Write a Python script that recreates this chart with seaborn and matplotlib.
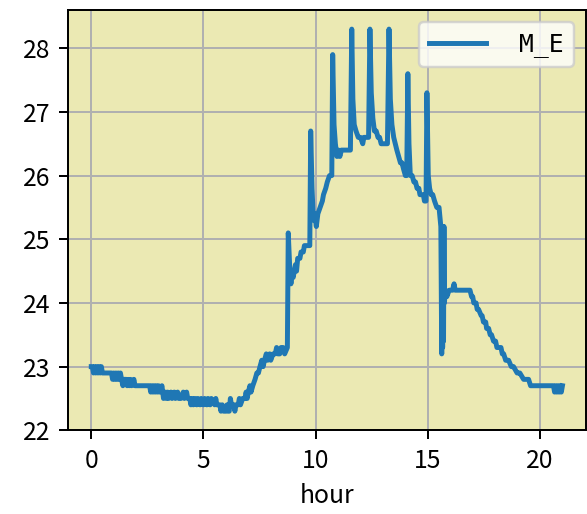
import matplotlib
matplotlib.use("Agg")
import matplotlib.pyplot as plt
import seaborn as sns
import pandas as pd

series_label = "M_E"
x_label = "hour"

hours = [
    0.00, 0.05, 0.10, 0.15, 0.20, 0.25, 0.30, 0.35, 0.40, 0.45, 0.50, 0.90,
    0.95, 1.00, 1.05, 1.10, 1.15, 1.20, 1.25, 1.30, 1.35, 1.41, 1.45, 1.56,
    1.60, 1.65, 1.70, 1.75, 1.80, 1.90, 1.95, 2.10, 2.60, 2.65, 2.70, 2.75,
    2.80, 2.85, 2.90, 2.95, 3.00, 3.05, 3.15, 3.22, 3.30, 3.35, 3.40, 3.45,
    3.55, 3.60, 3.70, 3.75, 3.85, 3.90, 4.00, 4.10, 4.15, 4.25, 4.30, 4.39,
    4.44, 4.50, 4.55, 4.62, 4.70, 4.75, 4.85, 4.90, 5.00, 5.05, 5.15, 5.20,
    5.30, 5.35, 5.50, 5.55, 5.60, 5.73, 5.78, 5.84, 5.90, 6.00, 6.05, 6.10,
    6.15, 6.20, 6.25, 6.35, 6.40, 6.45, 6.55, 6.60, 6.65, 6.75, 6.85, 6.90,
    6.95, 7.00, 7.07, 7.12, 7.20, 7.30, 7.38, 7.45, 7.52, 7.60, 7.66, 7.72,
    7.80, 7.86, 7.95, 8.00, 8.10, 8.20, 8.26, 8.32, 8.40, 8.46, 8.55, 8.62,
    8.74, 8.78, 8.84, 8.90, 8.95, 9.00, 9.10, 9.15, 9.20, 9.30, 9.35, 9.45,
    9.50, 9.60, 9.74, 9.78, 9.84, 9.90, 9.96, 10.03, 10.10, 10.20, 10.30, 10.35,
    10.45, 10.52, 10.62, 10.72, 10.76, 10.82, 10.88, 10.95, 11.02, 11.08, 11.15,
    11.55, 11.61, 11.66, 11.72, 11.80, 11.90, 12.00, 12.10, 12.15, 12.36, 12.42,
    12.48, 12.55, 12.62, 12.70, 12.78, 12.85, 12.92, 13.20, 13.27, 13.33, 13.40,
    13.48, 13.55, 13.62, 13.70, 13.78, 13.85, 13.92, 14.00, 14.06, 14.11, 14.16,
    14.22, 14.30, 14.38, 14.45, 14.52, 14.60, 14.65, 14.72, 14.80, 14.85, 14.92,
    14.96, 15.02, 15.08, 15.15, 15.22, 15.30, 15.40, 15.50, 15.58, 15.62, 15.64,
    15.66, 15.68, 15.70, 15.72, 15.74, 15.78, 15.85, 15.95, 16.10, 16.17, 16.22,
    16.88, 16.95, 17.00, 17.05, 17.15, 17.20, 17.26, 17.38, 17.42, 17.48, 17.58,
    17.62, 17.71, 17.78, 17.84, 17.93, 18.02, 18.08, 18.15, 18.26, 18.32, 18.38,
    18.47, 18.52, 18.60, 18.72, 18.77, 18.82, 18.98, 19.04, 19.10, 19.27, 19.33,
    19.40, 19.49, 19.58, 19.66, 19.71, 19.80, 20.60, 20.65, 20.70, 20.75, 20.80,
    20.85, 20.90, 20.95, 21.00,
]

temps = [
    23.0, 23.0, 22.9, 23.0, 22.9, 23.0, 22.9, 23.0, 22.9, 23.0, 22.9, 22.9,
    22.8, 22.9, 22.8, 22.9, 22.8, 22.9, 22.8, 22.9, 22.8, 22.7, 22.8, 22.8,
    22.7, 22.8, 22.7, 22.8, 22.7, 22.8, 22.7, 22.7, 22.7, 22.6, 22.7, 22.6,
    22.7, 22.6, 22.7, 22.6, 22.7, 22.6, 22.7, 22.5, 22.6, 22.5, 22.6, 22.5,
    22.6, 22.5, 22.6, 22.5, 22.6, 22.5, 22.5, 22.6, 22.5, 22.6, 22.5, 22.5,
    22.4, 22.5, 22.4, 22.5, 22.4, 22.5, 22.4, 22.5, 22.4, 22.5, 22.4, 22.5,
    22.4, 22.5, 22.4, 22.5, 22.4, 22.4, 22.3, 22.4, 22.3, 22.3, 22.4, 22.3,
    22.3, 22.5, 22.4, 22.4, 22.3, 22.4, 22.4, 22.5, 22.4, 22.5, 22.5, 22.6,
    22.5, 22.6, 22.7, 22.6, 22.7, 22.8, 22.9, 22.9, 23.0, 23.1, 23.0, 23.1,
    23.2, 23.1, 23.2, 23.1, 23.2, 23.2, 23.3, 23.2, 23.2, 23.3, 23.3, 23.2,
    23.3, 25.1, 24.6, 24.3, 24.5, 24.4, 24.6, 24.5, 24.7, 24.7, 24.8, 24.8,
    24.9, 24.9, 24.9, 26.7, 25.8, 25.3, 25.4, 25.2, 25.4, 25.5, 25.6, 25.7,
    25.8, 25.9, 26.0, 26.0, 27.9, 26.8, 26.5, 26.3, 26.4, 26.3, 26.4,
    26.4, 28.3, 27.2, 26.8, 26.7, 26.6, 26.6, 26.5, 26.6, 26.6, 28.3,
    27.3, 26.9, 26.7, 26.7, 26.6, 26.6, 26.5, 26.5, 28.3, 27.2, 26.8,
    26.6, 26.5, 26.4, 26.3, 26.2, 26.2, 26.1, 26.0, 26.0, 27.6, 26.5,
    26.0, 26.0, 25.9, 25.9, 25.8, 25.8, 25.7, 25.7, 25.7, 25.6, 25.6,
    27.3, 26.0, 25.8, 25.7, 25.7, 25.6, 25.5, 25.5, 25.2, 23.2, 24.5,
    23.3, 25.2, 23.4, 25.2, 24.0, 24.2, 24.1, 24.2, 24.2, 24.3, 24.2,
    24.2, 24.1, 24.1, 24.0, 24.0, 23.9, 23.9, 23.8, 23.8, 23.7, 23.7,
    23.6, 23.6, 23.5, 23.5, 23.4, 23.4, 23.3, 23.3, 23.3, 23.2, 23.2,
    23.1, 23.1, 23.1, 23.0, 23.0, 23.0, 22.9, 22.9, 22.9, 22.8, 22.8,
    22.8, 22.8, 22.7, 22.7, 22.7, 22.7, 22.7, 22.6, 22.7, 22.6, 22.7,
    22.6, 22.7, 22.6, 22.7,
]

df = pd.DataFrame({x_label: hours, series_label: temps})

dpi = 178
fig = plt.figure(figsize=(587 / dpi, 514 / dpi), dpi=dpi)
fam = ['Noto Sans CJK JP', 'DejaVu Sans']
plt.rcParams['font.family'] = fam
ax = fig.add_axes([67.7 / 587, 1 - 430.3 / 514, (586 - 67.7) / 587, (430.3 - 10) / 514])
ax.set_facecolor('#ebe9b3')
ax.set_axisbelow(True)
ax.grid(True, color='#b0b0b0', linewidth=0.8)

sns.lineplot(data=df, x=x_label, y=series_label, ax=ax, color='#1f77b4',
             linewidth=2.0, label=series_label, sort=False, estimator=None)
ax.set_ylabel('')
ax.set_xlabel(x_label, fontfamily=fam)
ax.set_xticks([0, 5, 10, 15, 20])
ax.set_yticks([22, 23, 24, 25, 26, 27, 28])
for lbl in ax.get_xticklabels() + ax.get_yticklabels():
    lbl.set_fontfamily(fam)
ax.legend(loc='upper right', handletextpad=1.35, handlelength=2.3,
          prop={'family': ['DejaVu Sans Mono'], 'size': 10})

fig.savefig('out.png', dpi=dpi)
